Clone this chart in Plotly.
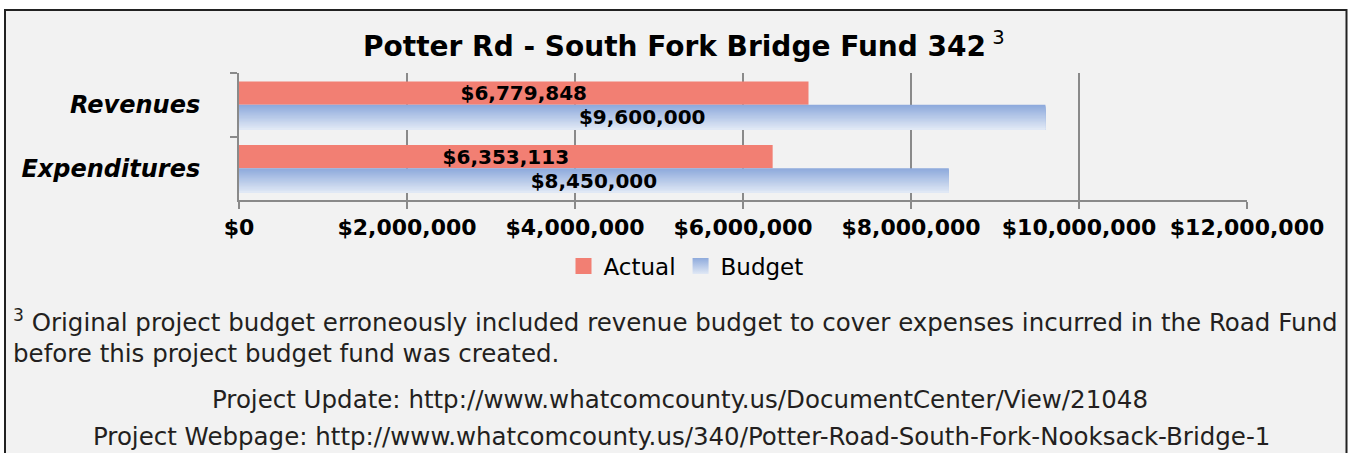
import plotly.graph_objects as go

# ---- data -------------------------------------------------------------
categories = ["Revenues", "Expenditures"]
actual = [6779848, 6353113]
budget = [9600000, 8450000]
series_names = ["Actual", "Budget"]

title_text = "Potter Rd - South Fork Bridge Fund 342"
footnote_mark = "3"
footnote_lines = [
    "Original project budget erroneously included revenue budget to cover expenses incurred in the Road Fund",
    "before this project budget fund was created.",
]
link_lines = [
    "Project Update: http://www.whatcomcounty.us/DocumentCenter/View/21048",
    "Project Webpage: http://www.whatcomcounty.us/340/Potter-Road-South-Fork-Nooksack-Bridge-1",
]

# ---- page geometry ----------------------------------------------------
W, H = 1348, 453
ML, MR, MT, MB = 239, 101, 73, 253
PW, PH = W - ML - MR, H - MT - MB


def px(x):
    """page pixel x -> paper fraction"""
    return (x - ML) / PW


def py(y):
    """page pixel y (from top) -> paper fraction"""
    return (H - MB - y) / PH


def fmt(v):
    return "${:,.0f}".format(v)


def rgb(c):
    return "rgb(%d,%d,%d)" % c


RED = "#f27f73"
TOP_BLUE = (0x8E, 0xAA, 0xDC)
BOT_BLUE = (0xE0, 0xE8, 0xF5)
GRID = "#8a8a8a"
BOLD = dict(family="DejaVu Sans", color="black", weight="bold")
NOTE_FONT = dict(family="DejaVu Sans", size=24.5, color="#231f20")

fig = go.Figure()

# Actual bars (upper bar in each group)
fig.add_trace(go.Bar(
    name=series_names[0], y=categories, x=actual, orientation="h",
    width=0.365, offset=-0.365,
    marker=dict(color=RED, line=dict(width=0)),
    text=[fmt(v) for v in actual], textposition="inside",
    insidetextanchor="middle", textangle=0, constraintext="none",
    textfont=dict(size=20, **BOLD), cliponaxis=False, showlegend=False,
))

# Budget bars, shaded top-to-bottom as a stack of nested slices
BAR_W = 0.39
N = 24
for i in range(N):
    t = i / (N - 1)
    c = tuple(round(a + (b - a) * t) for a, b in zip(TOP_BLUE, BOT_BLUE))
    off = BAR_W * i / N
    fig.add_trace(go.Bar(
        name=series_names[1], y=categories, x=budget, orientation="h",
        width=BAR_W - off, offset=off,
        marker=dict(color=rgb(c), line=dict(width=0)),
        showlegend=False, hoverinfo="skip",
    ))

# Budget value labels on top of the shaded slices
fig.add_trace(go.Bar(
    name=series_names[1], y=categories, x=budget, orientation="h",
    width=BAR_W, offset=0,
    marker=dict(color="rgba(0,0,0,0)", line=dict(width=0)),
    text=[fmt(v) for v in budget], textposition="inside",
    insidetextanchor="middle", textangle=0, constraintext="none",
    textfont=dict(size=20, **BOLD), showlegend=False, cliponaxis=False,
))

# Legend keys: square swatches, the Budget one shaded like its bars
fig.add_trace(go.Scatter(
    name=series_names[0], x=[None], y=[None], mode="markers",
    marker=dict(symbol="square", size=16, color=RED, line=dict(width=0)),
))
fig.add_trace(go.Scatter(
    name=series_names[1], x=[None], y=[None], mode="markers",
    marker=dict(symbol="square", size=16, color=rgb(TOP_BLUE),
                gradient=dict(type="vertical", color=rgb(BOT_BLUE)),
                line=dict(width=0)),
))

annotations = [
    dict(text="<b>%s</b><sup> %s</sup>" % (title_text, footnote_mark),
         x=px(684), y=py(45), xanchor="center", yanchor="middle",
         font=dict(family="DejaVu Sans", size=28, color="black")),
    dict(text="<sup>%s</sup> %s" % (footnote_mark, footnote_lines[0]),
         x=px(11), y=py(321), xanchor="left", yanchor="middle",
         font=NOTE_FONT),
    dict(text=footnote_lines[1],
         x=px(11), y=py(353), xanchor="left", yanchor="middle",
         font=NOTE_FONT),
    dict(text=link_lines[0],
         x=px(680), y=py(399), xanchor="center", yanchor="middle",
         font=NOTE_FONT),
    dict(text=link_lines[1],
         x=px(681), y=py(436), xanchor="center", yanchor="middle",
         font=NOTE_FONT),
]
for a in annotations:
    a.update(xref="paper", yref="paper", showarrow=False)

fig.update_layout(
    width=W, height=H,
    margin=dict(l=ML, r=MR, t=MT, b=MB, pad=0),
    paper_bgcolor="white", plot_bgcolor="white",
    barmode="overlay",
    showlegend=True,
    legend=dict(orientation="h", x=px(686), y=py(266),
                xanchor="center", yanchor="middle",
                bgcolor="rgba(0,0,0,0)",
                font=dict(family="DejaVu Sans", size=23, color="black"),
                traceorder="normal", itemwidth=30),
    annotations=annotations,
    shapes=[dict(type="rect", xref="paper", yref="paper",
                 x0=px(5), x1=px(1346.5), y0=py(10), y1=py(470),
                 fillcolor="#f2f2f2", line=dict(color="#222222", width=2),
                 layer="below")],
    xaxis=dict(range=[0, 12000000], dtick=2000000, tick0=0,
               tickprefix="$", tickformat=",.0f",
               showgrid=True, gridcolor=GRID, gridwidth=2,
               showline=True, linecolor=GRID, linewidth=2,
               ticks="outside", ticklen=7, tickwidth=2, tickcolor=GRID,
               tickfont=dict(size=22, **BOLD), zeroline=False,
               fixedrange=True),
    yaxis=dict(type="category", categoryorder="array", categoryarray=categories,
               autorange="reversed", tickson="boundaries",
               showgrid=False, showline=True, linecolor=GRID, linewidth=2,
               ticks="outside", ticklen=7, tickwidth=2, tickcolor=GRID,
               ticklabelstandoff=32,
               tickfont=dict(family="DejaVu Sans", size=24, color="black",
                             weight="bold", style="italic"),
               fixedrange=True),
)

fig.write_html("out.html")
